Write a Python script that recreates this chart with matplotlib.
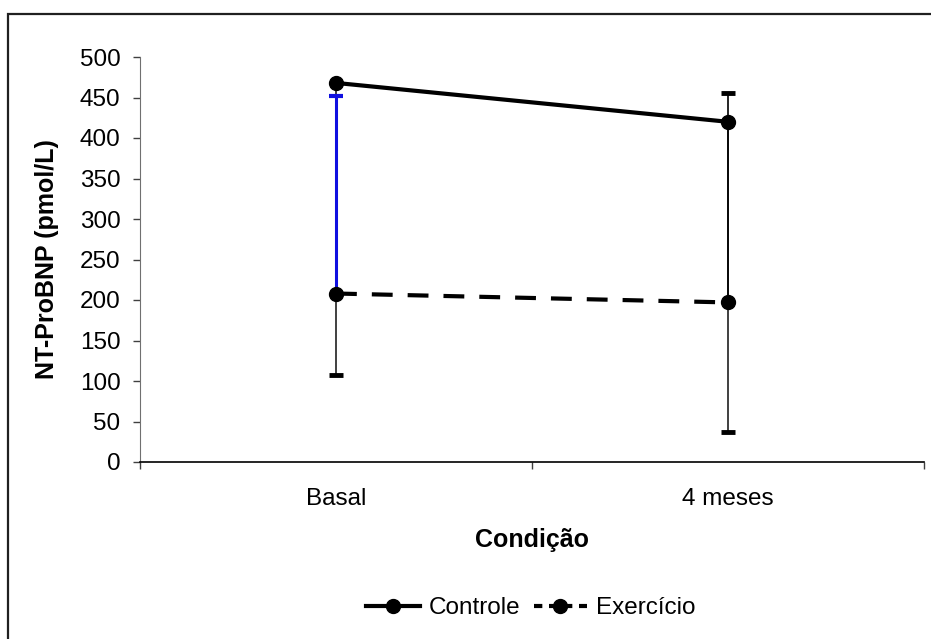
import matplotlib
matplotlib.use("Agg")
import matplotlib.pyplot as plt
from matplotlib.patches import Rectangle

plt.rcParams['font.family'] = ['Liberation Sans', 'DejaVu Sans']

# Dados
condicoes = ['Basal', '4 meses']
controle = [468, 420]
controle_dp = [361, 383]      # barra só para baixo
exercicio = [208, 197]
exercicio_dp = [244, 258]     # barra só para cima
cor_barra_ex = ['#1010e0', 'black']

x = list(range(len(condicoes)))

fig = plt.figure(figsize=(9.31, 6.39), dpi=100)
ax = fig.add_axes([140/931, 1 - 462/639, 784/931, 405/639])

# Barras de erro (desenhadas antes das linhas)
for i in x:
    lo = controle[i] - controle_dp[i]
    ax.vlines(i, lo, controle[i], color='#202020', lw=1.2, zorder=2)
    ax.plot([i], [lo], marker='_', ms=10, mew=3.5, color='black', zorder=2)
for i in x:
    hi = exercicio[i] + exercicio_dp[i]
    cor = cor_barra_ex[i]
    lw = 2.2 if i == 0 else 1.2
    ax.vlines(i, exercicio[i], hi, color=cor, lw=lw, zorder=3)
    ax.plot([i], [hi], marker='_', ms=10, mew=3 if i == 0 else 3.5, color=cor, zorder=3)

ax.plot(x, controle, color='black', lw=3, marker='o', ms=10, label='Controle', zorder=4)
ax.plot(x, exercicio, color='black', lw=3, marker='o', ms=10, dashes=(5, 3.6),
        label='Exercício', zorder=4)

ax.set_xlim(-0.5, 1.5)
ax.set_ylim(0, 500)
ax.set_yticks(range(0, 501, 50))
ax.set_xticks([-0.5, 0.5, 1.5])
ax.set_xticklabels([])
ax.set_xticks(x, minor=True)
ax.set_xticklabels(condicoes, minor=True)
ax.tick_params(axis='x', which='minor', length=0, pad=19, labelsize=17.5)
ax.tick_params(axis='x', which='major', direction='out', length=5, width=1, color='#404040')
ax.tick_params(axis='y', direction='out', length=5, width=1, color='#404040', labelsize=17.5, pad=9)

for s in ['top', 'right']:
    ax.spines[s].set_visible(False)
ax.spines['left'].set_color('#707070')
ax.spines['bottom'].set_color('black')
ax.spines['bottom'].set_linewidth(1.2)

ax.set_xlabel('Condição', fontsize=18, fontweight='bold', labelpad=13)
ax.set_ylabel('NT-ProBNP (pmol/L)', fontsize=18, fontweight='bold', labelpad=15)

leg = fig.legend(loc='center', bbox_to_anchor=(531/931, 1 - 608/639), ncol=2, frameon=False,
                 fontsize=17.5, handlelength=2.2, handletextpad=0.37, columnspacing=0.55)
leg.get_lines()[1].set_dashes((2.0, 1.6))

# moldura externa
fig.add_artist(Rectangle((7.5/931, -0.1), 1.0, 1 - 14.5/639 + 0.1,
                         transform=fig.transFigure, fill=False, lw=1.6,
                         edgecolor='#202020'))

fig.savefig('out.png', dpi=100)
